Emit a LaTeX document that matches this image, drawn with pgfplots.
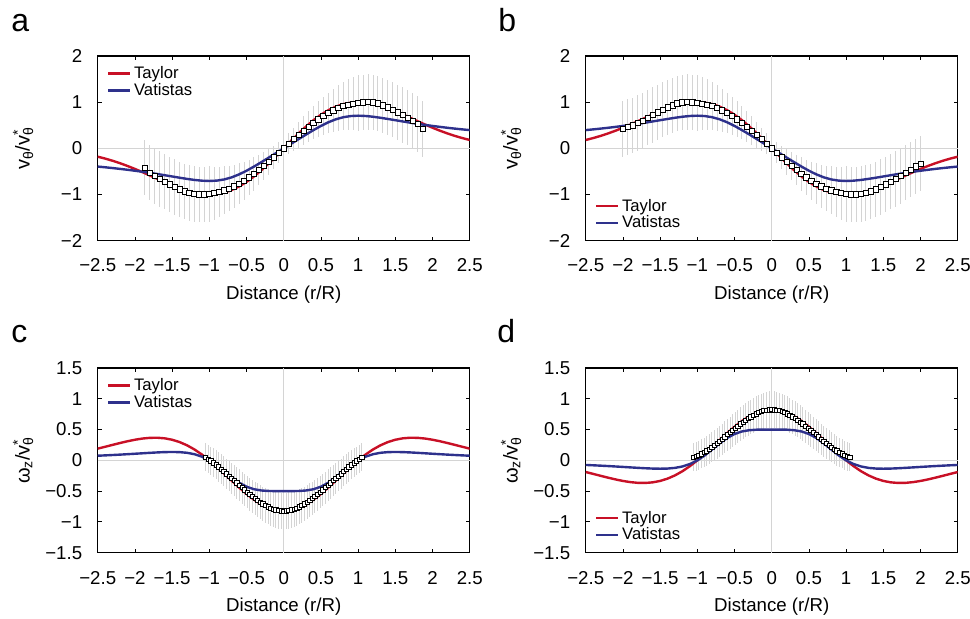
\documentclass[border=0pt]{standalone}
\usepackage{pgfplots}
\pgfplotsset{compat=1.18}
\usepackage{pgfplotstable}
\usepackage{fontspec}
\setmainfont{Liberation Sans}
\definecolor{tred}{RGB}{200,16,38}
\definecolor{vblue}{RGB}{46,49,140}
\definecolor{ebar}{RGB}{212,212,212}
\definecolor{zline}{RGB}{212,212,212}

% velocity model curves (panel a); panel b is the mirror
\pgfplotstableread{
x t v
-2.5 -0.1811 -0.3950
-2.4 -0.2222 -0.4105
-2.3 -0.2693 -0.4272
-2.2 -0.3226 -0.4451
-2.1 -0.3818 -0.4644
-2.0 -0.4463 -0.4851
-1.9 -0.5153 -0.5072
-1.8 -0.5873 -0.5309
-1.7 -0.6608 -0.5559
-1.6 -0.7334 -0.5822
-1.5 -0.8029 -0.6092
-1.4 -0.8663 -0.6363
-1.3 -0.9207 -0.6620
-1.2 -0.9630 -0.6845
-1.1 -0.9903 -0.7007
-1.0 -1.0000 -0.7071
-0.9 -0.9897 -0.6994
-0.8 -0.9577 -0.6738
-0.7 -0.9033 -0.6286
-0.6 -0.8263 -0.5645
-0.5 -0.7275 -0.4851
-0.4 -0.6088 -0.3950
-0.3 -0.4729 -0.2988
-0.2 -0.3232 -0.1998
-0.1 -0.1640 -0.1000
0.0 0.0000 0.0000
0.1 0.1640 0.1000
0.2 0.3232 0.1998
0.3 0.4729 0.2988
0.4 0.6088 0.3950
0.5 0.7275 0.4851
0.6 0.8263 0.5645
0.7 0.9033 0.6286
0.8 0.9577 0.6738
0.9 0.9897 0.6994
1.0 1.0000 0.7071
1.1 0.9903 0.7007
1.2 0.9630 0.6845
1.3 0.9207 0.6620
1.4 0.8663 0.6363
1.5 0.8029 0.6092
1.6 0.7334 0.5822
1.7 0.6608 0.5559
1.8 0.5873 0.5309
1.9 0.5153 0.5072
2.0 0.4463 0.4851
2.1 0.3818 0.4644
2.2 0.3226 0.4451
2.3 0.2693 0.4272
2.4 0.2222 0.4105
2.5 0.1811 0.3950
}\curveA

\pgfplotstableread{
x t v
-2.5 0.1811 0.3950
-2.4 0.2222 0.4105
-2.3 0.2693 0.4272
-2.2 0.3226 0.4451
-2.1 0.3818 0.4644
-2.0 0.4463 0.4851
-1.9 0.5153 0.5072
-1.8 0.5873 0.5309
-1.7 0.6608 0.5559
-1.6 0.7334 0.5822
-1.5 0.8029 0.6092
-1.4 0.8663 0.6363
-1.3 0.9207 0.6620
-1.2 0.9630 0.6845
-1.1 0.9903 0.7007
-1.0 1.0000 0.7071
-0.9 0.9897 0.6994
-0.8 0.9577 0.6738
-0.7 0.9033 0.6286
-0.6 0.8263 0.5645
-0.5 0.7275 0.4851
-0.4 0.6088 0.3950
-0.3 0.4729 0.2988
-0.2 0.3232 0.1998
-0.1 0.1640 0.1000
0.0 0.0000 0.0000
0.1 -0.1640 -0.1000
0.2 -0.3232 -0.1998
0.3 -0.4729 -0.2988
0.4 -0.6088 -0.3950
0.5 -0.7275 -0.4851
0.6 -0.8263 -0.5645
0.7 -0.9033 -0.6286
0.8 -0.9577 -0.6738
0.9 -0.9897 -0.6994
1.0 -1.0000 -0.7071
1.1 -0.9903 -0.7007
1.2 -0.9630 -0.6845
1.3 -0.9207 -0.6620
1.4 -0.8663 -0.6363
1.5 -0.8029 -0.6092
1.6 -0.7334 -0.5822
1.7 -0.6608 -0.5559
1.8 -0.5873 -0.5309
1.9 -0.5153 -0.5072
2.0 -0.4463 -0.4851
2.1 -0.3818 -0.4644
2.2 -0.3226 -0.4451
2.3 -0.2693 -0.4272
2.4 -0.2222 -0.4105
2.5 -0.1811 -0.3950
}\curveB

\pgfplotstableread{
x t v
-2.5 0.1901 0.0750
-2.4 0.2204 0.0805
-2.3 0.2512 0.0865
-2.2 0.2815 0.0929
-2.1 0.3100 0.0998
-2.0 0.3347 0.1070
-1.9 0.3539 0.1145
-1.8 0.3655 0.1218
-1.7 0.3673 0.1285
-1.6 0.3576 0.1338
-1.5 0.3346 0.1361
-1.4 0.2970 0.1334
-1.3 0.2443 0.1226
-1.2 0.1766 0.0996
-1.1 0.0945 0.0600
-1.0 0.0000 0.0000
-0.9 -0.1045 -0.0807
-0.8 -0.2155 -0.1764
-0.7 -0.3291 -0.2751
-0.6 -0.4407 -0.3625
-0.5 -0.5456 -0.4280
-0.4 -0.6392 -0.4691
-0.3 -0.7172 -0.4900
-0.2 -0.7757 -0.4980
-0.1 -0.8120 -0.4999
0.0 -0.8244 -0.5000
0.1 -0.8120 -0.4999
0.2 -0.7757 -0.4980
0.3 -0.7172 -0.4900
0.4 -0.6392 -0.4691
0.5 -0.5456 -0.4280
0.6 -0.4407 -0.3625
0.7 -0.3291 -0.2751
0.8 -0.2155 -0.1764
0.9 -0.1045 -0.0807
1.0 0.0000 0.0000
1.1 0.0945 0.0600
1.2 0.1766 0.0996
1.3 0.2443 0.1226
1.4 0.2970 0.1334
1.5 0.3346 0.1361
1.6 0.3576 0.1338
1.7 0.3673 0.1285
1.8 0.3655 0.1218
1.9 0.3539 0.1145
2.0 0.3347 0.1070
2.1 0.3100 0.0998
2.2 0.2815 0.0929
2.3 0.2512 0.0865
2.4 0.2204 0.0805
2.5 0.1901 0.0750
}\curveC

\pgfplotstableread{
x t v
-2.5 -0.1901 -0.0750
-2.4 -0.2204 -0.0805
-2.3 -0.2512 -0.0865
-2.2 -0.2815 -0.0929
-2.1 -0.3100 -0.0998
-2.0 -0.3347 -0.1070
-1.9 -0.3539 -0.1145
-1.8 -0.3655 -0.1218
-1.7 -0.3673 -0.1285
-1.6 -0.3576 -0.1338
-1.5 -0.3346 -0.1361
-1.4 -0.2970 -0.1334
-1.3 -0.2443 -0.1226
-1.2 -0.1766 -0.0996
-1.1 -0.0945 -0.0600
-1.0 0.0000 0.0000
-0.9 0.1045 0.0807
-0.8 0.2155 0.1764
-0.7 0.3291 0.2751
-0.6 0.4407 0.3625
-0.5 0.5456 0.4280
-0.4 0.6392 0.4691
-0.3 0.7172 0.4900
-0.2 0.7757 0.4980
-0.1 0.8120 0.4999
0.0 0.8244 0.5000
0.1 0.8120 0.4999
0.2 0.7757 0.4980
0.3 0.7172 0.4900
0.4 0.6392 0.4691
0.5 0.5456 0.4280
0.6 0.4407 0.3625
0.7 0.3291 0.2751
0.8 0.2155 0.1764
0.9 0.1045 0.0807
1.0 0.0000 0.0000
1.1 -0.0945 -0.0600
1.2 -0.1766 -0.0996
1.3 -0.2443 -0.1226
1.4 -0.2970 -0.1334
1.5 -0.3346 -0.1361
1.6 -0.3576 -0.1338
1.7 -0.3673 -0.1285
1.8 -0.3655 -0.1218
1.9 -0.3539 -0.1145
2.0 -0.3347 -0.1070
2.1 -0.3100 -0.0998
2.2 -0.2815 -0.0929
2.3 -0.2512 -0.0865
2.4 -0.2204 -0.0805
2.5 -0.1901 -0.0750
}\curveD

% measured data with error bars
\pgfplotstableread{
x y e
-1.8667 -0.420 0.600
-1.8000 -0.527 0.600
-1.7333 -0.601 0.600
-1.6667 -0.665 0.600
-1.6000 -0.723 0.600
-1.5333 -0.780 0.600
-1.4667 -0.835 0.600
-1.4000 -0.886 0.600
-1.3333 -0.934 0.600
-1.2667 -0.971 0.600
-1.2000 -0.993 0.600
-1.1333 -1.000 0.600
-1.0667 -0.996 0.600
-1.0000 -0.985 0.600
-0.9333 -0.970 0.573
-0.8667 -0.947 0.547
-0.8000 -0.913 0.520
-0.7333 -0.874 0.493
-0.6667 -0.825 0.467
-0.6000 -0.766 0.440
-0.5333 -0.703 0.413
-0.4667 -0.630 0.387
-0.4000 -0.554 0.360
-0.3333 -0.470 0.333
-0.2667 -0.384 0.307
-0.2000 -0.293 0.280
-0.1333 -0.198 0.253
-0.0667 -0.100 0.227
0.0000 0.000 0.200
0.0667 0.100 0.227
0.1333 0.198 0.253
0.2000 0.293 0.280
0.2667 0.384 0.307
0.3333 0.470 0.333
0.4000 0.554 0.360
0.4667 0.630 0.387
0.5333 0.703 0.413
0.6000 0.766 0.440
0.6667 0.825 0.467
0.7333 0.874 0.493
0.8000 0.913 0.520
0.8667 0.947 0.547
0.9333 0.970 0.573
1.0000 0.985 0.600
1.0667 0.996 0.600
1.1333 1.000 0.600
1.2000 0.993 0.600
1.2667 0.971 0.600
1.3333 0.934 0.600
1.4000 0.886 0.600
1.4667 0.835 0.600
1.5333 0.780 0.600
1.6000 0.723 0.600
1.6667 0.665 0.600
1.7333 0.601 0.600
1.8000 0.527 0.600
1.8667 0.420 0.600
}\dataA

\pgfplotstableread{
x y e
-2.0000 0.420 0.600
-1.9333 0.460 0.600
-1.8667 0.500 0.600
-1.8000 0.550 0.600
-1.7333 0.601 0.600
-1.6667 0.665 0.600
-1.6000 0.723 0.600
-1.5333 0.780 0.600
-1.4667 0.835 0.600
-1.4000 0.886 0.600
-1.3333 0.934 0.600
-1.2667 0.971 0.600
-1.2000 0.993 0.600
-1.1333 1.000 0.600
-1.0667 0.996 0.600
-1.0000 0.985 0.600
-0.9333 0.970 0.573
-0.8667 0.947 0.547
-0.8000 0.913 0.520
-0.7333 0.874 0.493
-0.6667 0.825 0.467
-0.6000 0.766 0.440
-0.5333 0.703 0.413
-0.4667 0.630 0.387
-0.4000 0.554 0.360
-0.3333 0.470 0.333
-0.2667 0.384 0.307
-0.2000 0.293 0.280
-0.1333 0.198 0.253
-0.0667 0.100 0.227
0.0000 0.000 0.200
0.0667 -0.100 0.227
0.1333 -0.198 0.253
0.2000 -0.293 0.280
0.2667 -0.384 0.307
0.3333 -0.470 0.333
0.4000 -0.554 0.360
0.4667 -0.630 0.387
0.5333 -0.703 0.413
0.6000 -0.766 0.440
0.6667 -0.825 0.467
0.7333 -0.874 0.493
0.8000 -0.913 0.520
0.8667 -0.947 0.547
0.9333 -0.970 0.573
1.0000 -0.985 0.600
1.0667 -0.996 0.600
1.1333 -1.000 0.600
1.2000 -0.993 0.600
1.2667 -0.971 0.600
1.3333 -0.934 0.600
1.4000 -0.886 0.600
1.4667 -0.835 0.600
1.5333 -0.780 0.600
1.6000 -0.723 0.600
1.6667 -0.665 0.600
1.7333 -0.601 0.600
1.8000 -0.527 0.600
1.8667 -0.460 0.600
1.9333 -0.390 0.600
2.0000 -0.330 0.600
}\dataB

\pgfplotstableread{
x y e
-1.050 0.049 0.227
-1.015 0.021 0.229
-0.980 -0.008 0.231
-0.945 -0.040 0.234
-0.910 -0.074 0.236
-0.875 -0.108 0.239
-0.840 -0.144 0.241
-0.805 -0.180 0.244
-0.770 -0.218 0.246
-0.735 -0.255 0.249
-0.700 -0.294 0.251
-0.665 -0.331 0.253
-0.630 -0.368 0.256
-0.595 -0.406 0.258
-0.560 -0.444 0.261
-0.525 -0.480 0.263
-0.490 -0.516 0.266
-0.455 -0.551 0.268
-0.420 -0.586 0.271
-0.385 -0.619 0.273
-0.350 -0.650 0.276
-0.315 -0.681 0.278
-0.280 -0.708 0.280
-0.245 -0.732 0.283
-0.210 -0.755 0.285
-0.175 -0.775 0.288
-0.140 -0.792 0.290
-0.105 -0.806 0.293
-0.070 -0.814 0.295
-0.035 -0.821 0.298
0.000 -0.824 0.300
0.035 -0.821 0.298
0.070 -0.814 0.295
0.105 -0.806 0.293
0.140 -0.792 0.290
0.175 -0.775 0.288
0.210 -0.755 0.285
0.245 -0.732 0.283
0.280 -0.708 0.280
0.315 -0.681 0.278
0.350 -0.650 0.276
0.385 -0.619 0.273
0.420 -0.586 0.271
0.455 -0.551 0.268
0.490 -0.516 0.266
0.525 -0.480 0.263
0.560 -0.444 0.261
0.595 -0.406 0.258
0.630 -0.368 0.256
0.665 -0.331 0.253
0.700 -0.294 0.251
0.735 -0.255 0.249
0.770 -0.218 0.246
0.805 -0.180 0.244
0.840 -0.144 0.241
0.875 -0.108 0.239
0.910 -0.074 0.236
0.945 -0.040 0.234
0.980 -0.008 0.231
1.015 0.021 0.229
1.050 0.049 0.227
}\dataC

\pgfplotstableread{
x y e
-1.050 0.051 0.227
-1.015 0.062 0.229
-0.980 0.082 0.231
-0.945 0.106 0.234
-0.910 0.127 0.236
-0.875 0.154 0.239
-0.840 0.183 0.241
-0.805 0.212 0.244
-0.770 0.243 0.246
-0.735 0.275 0.249
-0.700 0.309 0.251
-0.665 0.344 0.253
-0.630 0.380 0.256
-0.595 0.416 0.258
-0.560 0.451 0.261
-0.525 0.485 0.263
-0.490 0.521 0.266
-0.455 0.556 0.268
-0.420 0.591 0.271
-0.385 0.622 0.273
-0.350 0.652 0.276
-0.315 0.681 0.278
-0.280 0.708 0.280
-0.245 0.732 0.283
-0.210 0.755 0.285
-0.175 0.775 0.288
-0.140 0.792 0.290
-0.105 0.806 0.293
-0.070 0.814 0.295
-0.035 0.821 0.298
0.000 0.824 0.300
0.035 0.821 0.298
0.070 0.814 0.295
0.105 0.806 0.293
0.140 0.792 0.290
0.175 0.775 0.288
0.210 0.755 0.285
0.245 0.732 0.283
0.280 0.708 0.280
0.315 0.681 0.278
0.350 0.652 0.276
0.385 0.622 0.273
0.420 0.591 0.271
0.455 0.556 0.268
0.490 0.521 0.266
0.525 0.485 0.263
0.560 0.451 0.261
0.595 0.416 0.258
0.630 0.380 0.256
0.665 0.344 0.253
0.700 0.309 0.251
0.735 0.275 0.249
0.770 0.243 0.246
0.805 0.212 0.244
0.840 0.183 0.241
0.875 0.154 0.239
0.910 0.127 0.236
0.945 0.106 0.234
0.980 0.082 0.231
1.015 0.062 0.229
1.050 0.051 0.227
}\dataD

\newcommand{\tickfont}{\fontsize{14}{16}\selectfont}
\newcommand{\labfont}{\fontsize{14}{16}\selectfont}

\pgfplotsset{
  panel/.style={
    scale only axis, width=279pt, height=138.5pt,
    xmin=-2.5, xmax=2.5,
    xtick={-2.5,-2,-1.5,-1,-0.5,0,0.5,1,1.5,2,2.5},
    xticklabels={−2.5,−2,−1.5,−1,−0.5,0,0.5,1,1.5,2,2.5},
    tick align=inside, major tick length=3pt,
    every tick/.style={black, line width=0.6pt},
    axis line style={line width=1.1pt},
    xticklabel style={anchor=base, yshift=-23.5pt, inner sep=0pt, font=\tickfont},
    yticklabel style={anchor=east, xshift=-11.5pt, inner sep=0pt, font=\tickfont},
    xlabel={Distance (r/R)},
    xlabel style={at={(axis description cs:0.5,-0.316)}, anchor=base, font=\labfont},
    ylabel style={at={(axis description cs:-0.2006,0.5)}, anchor=center, font=\fontsize{15}{17}\selectfont},
    extra x ticks={0}, extra x tick labels={},
    extra x tick style={grid=major, major grid style={zline, line width=0.8pt}, major tick length=0pt},
    extra y ticks={0}, extra y tick labels={},
    extra y tick style={grid=major, major grid style={zline, line width=0.8pt}, major tick length=0pt},
    legend style={draw=none, fill=none, font=\fontsize{12.5}{14}\selectfont, inner sep=1pt, row sep=-2pt, cells={anchor=west}},
    legend image code/.code={\draw[#1, line width=2pt] (0pt,0pt) -- (16.5pt,0pt);},
  },
  velo/.style={ymin=-2, ymax=2, ytick={-2,-1,0,1,2}, yticklabels={−2,−1,0,1,2},
    ylabel={v\textsubscript{θ}/v\rlap{\textsuperscript{*}}\textsubscript{θ}}},
  vort/.style={ymin=-1.5, ymax=1.5, ytick={-1.5,-1,-0.5,0,0.5,1,1.5}, yticklabels={−1.5,−1,−0.5,0,0.5,1,1.5},
    ylabel={ω\textsubscript{z}/v\rlap{\textsuperscript{*}}\textsubscript{θ}}},
  ebars/.style={forget plot, draw=none, mark=none, error bars/.cd, y dir=both, y explicit, error mark=none,
    error bar style={draw=ebar, line width=0.75pt}},
  tline/.style={tred, line width=1.8pt, mark=none},
  vline/.style={vblue, line width=1.8pt, mark=none},
  dmarks/.style={forget plot, only marks, mark=square*, mark size=#1, mark options={draw=black, fill=white, line width=0.55pt}},
}

\begin{document}
\begin{tikzpicture}
\useasboundingbox (0,0) rectangle (727.5pt,463.5pt);

\node[anchor=base west, inner sep=0pt, font=\fontsize{24}{24}\selectfont] at (8.25pt,439.5pt) {a};
\node[anchor=base west, inner sep=0pt, font=\fontsize{24}{24}\selectfont] at (373.5pt,439.5pt) {b};
\node[anchor=base west, inner sep=0pt, font=\fontsize{24}{24}\selectfont] at (8.25pt,206.5pt) {c};
\node[anchor=base west, inner sep=0pt, font=\fontsize{24}{24}\selectfont] at (372.75pt,206.5pt) {d};

% panel a
\begin{axis}[panel, velo, at={(73.3pt,283pt)}, anchor=south west,
  legend style={at={(0.02,0.965)}, anchor=north west}]
\addplot[ebars] table[x=x, y=y, y error=e] {\dataA};
\addplot[tline] table[x=x, y=t] {\curveA};
\addlegendentry{Taylor}
\addplot[vline] table[x=x, y=v] {\curveA};
\addlegendentry{Vatistas}
\addplot[dmarks=2pt] table[x=x, y=y] {\dataA};
\end{axis}

% panel b
\begin{axis}[panel, velo, at={(439.3pt,283pt)}, anchor=south west,
  legend style={at={(0.02,0.035)}, anchor=south west}]
\addplot[ebars] table[x=x, y=y, y error=e] {\dataB};
\addplot[tline] table[x=x, y=t] {\curveB};
\addlegendentry{Taylor}
\addplot[vline] table[x=x, y=v] {\curveB};
\addlegendentry{Vatistas}
\addplot[dmarks=2pt] table[x=x, y=y] {\dataB};
\end{axis}

% panel c
\begin{axis}[panel, vort, at={(73.3pt,49pt)}, anchor=south west,
  legend style={at={(0.02,0.965)}, anchor=north west}]
\addplot[ebars] table[x=x, y=y, y error=e] {\dataC};
\addplot[tline] table[x=x, y=t] {\curveC};
\addlegendentry{Taylor}
\addplot[vline] table[x=x, y=v] {\curveC};
\addlegendentry{Vatistas}
\addplot[dmarks=1.6pt] table[x=x, y=y] {\dataC};
\end{axis}

% panel d
\begin{axis}[panel, vort, at={(439.3pt,49pt)}, anchor=south west,
  legend style={at={(0.02,0.035)}, anchor=south west}]
\addplot[ebars] table[x=x, y=y, y error=e] {\dataD};
\addplot[tline] table[x=x, y=t] {\curveD};
\addlegendentry{Taylor}
\addplot[vline] table[x=x, y=v] {\curveD};
\addlegendentry{Vatistas}
\addplot[dmarks=1.6pt] table[x=x, y=y] {\dataD};
\end{axis}
\end{tikzpicture}
\end{document}
